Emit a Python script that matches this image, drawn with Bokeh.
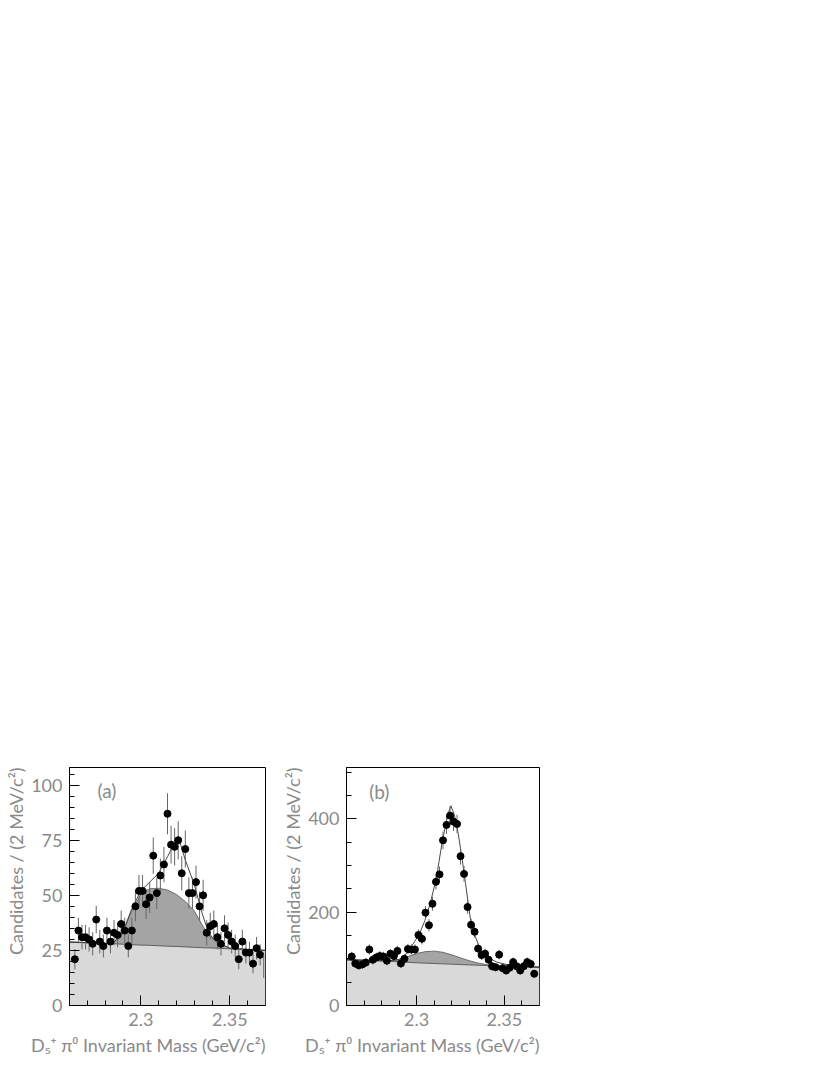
import math
from bokeh.plotting import figure
from bokeh.models import FixedTicker, NumeralTickFormatter, Label, ColumnDataSource, Title
from bokeh.layouts import row
from bokeh.embed import file_html
from bokeh.resources import INLINE

# ---------------- data ----------------
bin_first_center = 2.263
bin_width = 0.002

counts_a = [21, 34, 31, 31, 30, 28, 39, 29, 27, 34, 29, 33, 32, 37, 34, 27, 34, 45, 52, 52,
            46, 49, 68, 51, 59, 64, 87, 73, 72, 75, 60, 71, 51, 51, 56, 45, 50, 33, 36, 37,
            31, 28, 35, 32, 29, 27, 21, 29, 24, 24, 19, 26, 23]
counts_b = [105, 90, 86, 88, 92, 120, 98, 103, 106, 105, 96, 111, 106, 117, 90, 100, 121, 120, 120, 151,
            143, 199, 172, 218, 265, 281, 354, 387, 407, 394, 389, 320, 282, 211, 173, 158, 122, 108, 111, 98,
            84, 82, 109, 80, 75, 81, 93, 84, 75, 84, 93, 89, 68]

# lone error bar at the right edge of panel (a)
edge_bar_x_a = [2.369]
edge_bar_lo_a = [12.5]
edge_bar_hi_a = [23.0]

# fit components, panel (a)
comp_x_a = [2.26, 2.27, 2.28, 2.285, 2.29, 2.295, 2.30, 2.305, 2.31, 2.315, 2.32, 2.325,
            2.33, 2.335, 2.34, 2.345, 2.35, 2.36, 2.37]
bkg_a = [28.8, 28.5, 28.1, 28.0, 27.8, 27.6, 27.4, 27.3, 27.1, 26.9, 26.8, 26.6,
         26.4, 26.2, 26.1, 25.9, 25.7, 25.4, 25.0]
refl_a = [28.8, 28.5, 28.1, 28.6, 33.2, 43.0, 50.5, 53.0, 53.2, 52.4, 50.4, 47.2,
          43.0, 35.8, 30.4, 27.6, 26.0, 25.4, 25.0]
total_x_a = [2.26, 2.28, 2.285, 2.29, 2.295, 2.30, 2.305, 2.31, 2.315, 2.319, 2.322, 2.325,
             2.33, 2.334, 2.338, 2.342, 2.35, 2.37]
total_a = [28.8, 28.1, 28.8, 33.5, 44.0, 52.0, 56.0, 60.0, 67.5, 74.0, 74.0, 66.0,
           55.0, 43.0, 33.0, 29.2, 26.0, 25.0]

# fit components, panel (b)
comp_x_b = [2.26, 2.27, 2.28, 2.285, 2.29, 2.295, 2.30, 2.305, 2.31, 2.315, 2.32, 2.325,
            2.33, 2.335, 2.34, 2.345, 2.35, 2.36, 2.37]
bkg_b = [98, 97, 95.5, 94.5, 93.5, 92.5, 91.5, 90.7, 90, 89.2, 88.5, 87.7,
         87, 86.2, 85.5, 84.7, 84, 83, 82]
refl_b = [98, 97, 95.5, 95.5, 98, 105, 111.5, 115.5, 116.5, 114, 108.5, 102,
          96, 91, 87.5, 85.5, 84, 83, 82]
total_x_b = [2.26, 2.275, 2.285, 2.29, 2.293, 2.296, 2.299, 2.3016, 2.3047, 2.3078, 2.3109, 2.3119,
             2.3147, 2.317, 2.3185, 2.3195, 2.3205, 2.3215, 2.3237, 2.326, 2.3278, 2.3306, 2.333,
             2.3362, 2.34, 2.3456, 2.353, 2.37]
total_b = [98, 96.5, 96, 99, 106, 121, 138, 154, 182, 220, 268, 289,
           354, 396, 418, 428, 418, 408, 368, 311, 262, 186, 151,
           122, 104, 93, 86, 82]

x_major = [2.3, 2.35]
x_minor = [2.27, 2.28, 2.29, 2.31, 2.32, 2.33, 2.34, 2.36]
y_major_a = [0, 25, 50, 75, 100]
y_minor_a = [5, 10, 15, 20, 30, 35, 40, 45, 55, 60, 65, 70, 80, 85, 90, 95, 105]
y_major_b = [0, 200, 400]
y_minor_b = [50, 100, 150, 250, 300, 350, 450, 500]

x_title = "D\u209b\u207a \u03c0\u2070 Invariant Mass (GeV/c\u00b2)"
y_title = "Candidates / (2 MeV/c\u00b2)"

# ---------------- style ----------------
FONT = "Lato"
TXT = "#8a8a8a"
LIGHT = "#d9d9d9"
DARK = "#a4a4a4"
XR = (2.26, 2.37)


def make_panel(counts, ymax, ymaj, ymin, comp_x, bkg, refl, tx, tot, tag,
               border_left, border_right, px_per_unit, tag_dx):
    w = border_left + 196 + border_right
    p = figure(width=w, height=767 + 238 + 60, x_range=XR, y_range=(0, ymax),
               output_backend="svg", toolbar_location=None,
               min_border_left=border_left, min_border_right=border_right,
               min_border_top=767, min_border_bottom=60)
    p.grid.visible = False
    p.outline_line_color = "black"
    p.outline_line_width = 1
    p.background_fill_color = "white"
    p.border_fill_color = "white"

    for ax in (p.xaxis[0], p.yaxis[0]):
        ax.major_tick_in = 10
        ax.major_tick_out = 0
        ax.minor_tick_in = 5
        ax.minor_tick_out = 0
        ax.axis_line_color = "black"
        ax.major_tick_line_color = "black"
        ax.minor_tick_line_color = "black"
        ax.major_label_text_font = FONT
        ax.major_label_text_font_size = "18px"
        ax.major_label_text_color = TXT
        ax.major_label_standoff = 7
    p.xaxis.ticker = FixedTicker(ticks=x_major, minor_ticks=x_minor)
    p.xaxis.formatter = NumeralTickFormatter(format="0.0[0]")
    p.yaxis.ticker = FixedTicker(ticks=ymaj, minor_ticks=ymin)

    # axis titles, aligned to the far end of each axis as in the original
    p.add_layout(Title(text=x_title, align="right", text_font=FONT, text_font_size="18px",
                       text_font_style="normal", text_color=TXT, standoff=6), "below")
    p.add_layout(Title(text=y_title, align="right", text_font=FONT, text_font_size="18px",
                       text_font_style="normal", text_color=TXT, standoff=4), "left")

    # fit components
    p.varea(x=comp_x, y1=[0] * len(comp_x), y2=bkg, fill_color=LIGHT)
    p.varea(x=comp_x, y1=bkg, y2=refl, fill_color=DARK)
    p.line(comp_x, refl, line_color="#555555", line_width=0.8)
    p.line(comp_x, bkg, line_color="#444444", line_width=0.8)
    p.line(tx, tot, line_color="#333333", line_width=0.9)

    # data
    xs = [round(bin_first_center + bin_width * i, 4) for i in range(len(counts))]
    err = [math.sqrt(c) for c in counts]
    src = ColumnDataSource(dict(x=xs, y=counts,
                                lo=[c - e for c, e in zip(counts, err)],
                                hi=[c + e for c, e in zip(counts, err)]))
    p.segment(x0="x", y0="lo", x1="x", y1="hi", source=src, line_color="#666666", line_width=1)
    p.scatter(x="x", y="y", source=src, size=7, marker="circle",
              fill_color="black", line_color="black")

    ppx = 196 / (XR[1] - XR[0])
    p.add_layout(Label(x=XR[0] + tag_dx / ppx, y=(1005 - 790.5) / px_per_unit, text=tag,
                       text_font=FONT, text_font_size="19px", text_color=TXT,
                       text_baseline="middle", text_align="left"))
    return p


pa = make_panel(counts_a, 108, y_major_a, y_minor_a, comp_x_a, bkg_a, refl_a,
                total_x_a, total_a, "(a)", 69, 12, 2.2, 28)
pa.segment(x0=edge_bar_x_a, y0=edge_bar_lo_a, x1=edge_bar_x_a, y1=edge_bar_hi_a,
           line_color="#666666", line_width=1)
pb = make_panel(counts_b, 510, y_major_b, y_minor_b, comp_x_b, bkg_b, refl_b,
                total_x_b, total_b, "(b)", 66, 12, 238 / 510, 23)

layout = row(pa, pb)
open("out.html", "w").write(file_html(layout, INLINE))
